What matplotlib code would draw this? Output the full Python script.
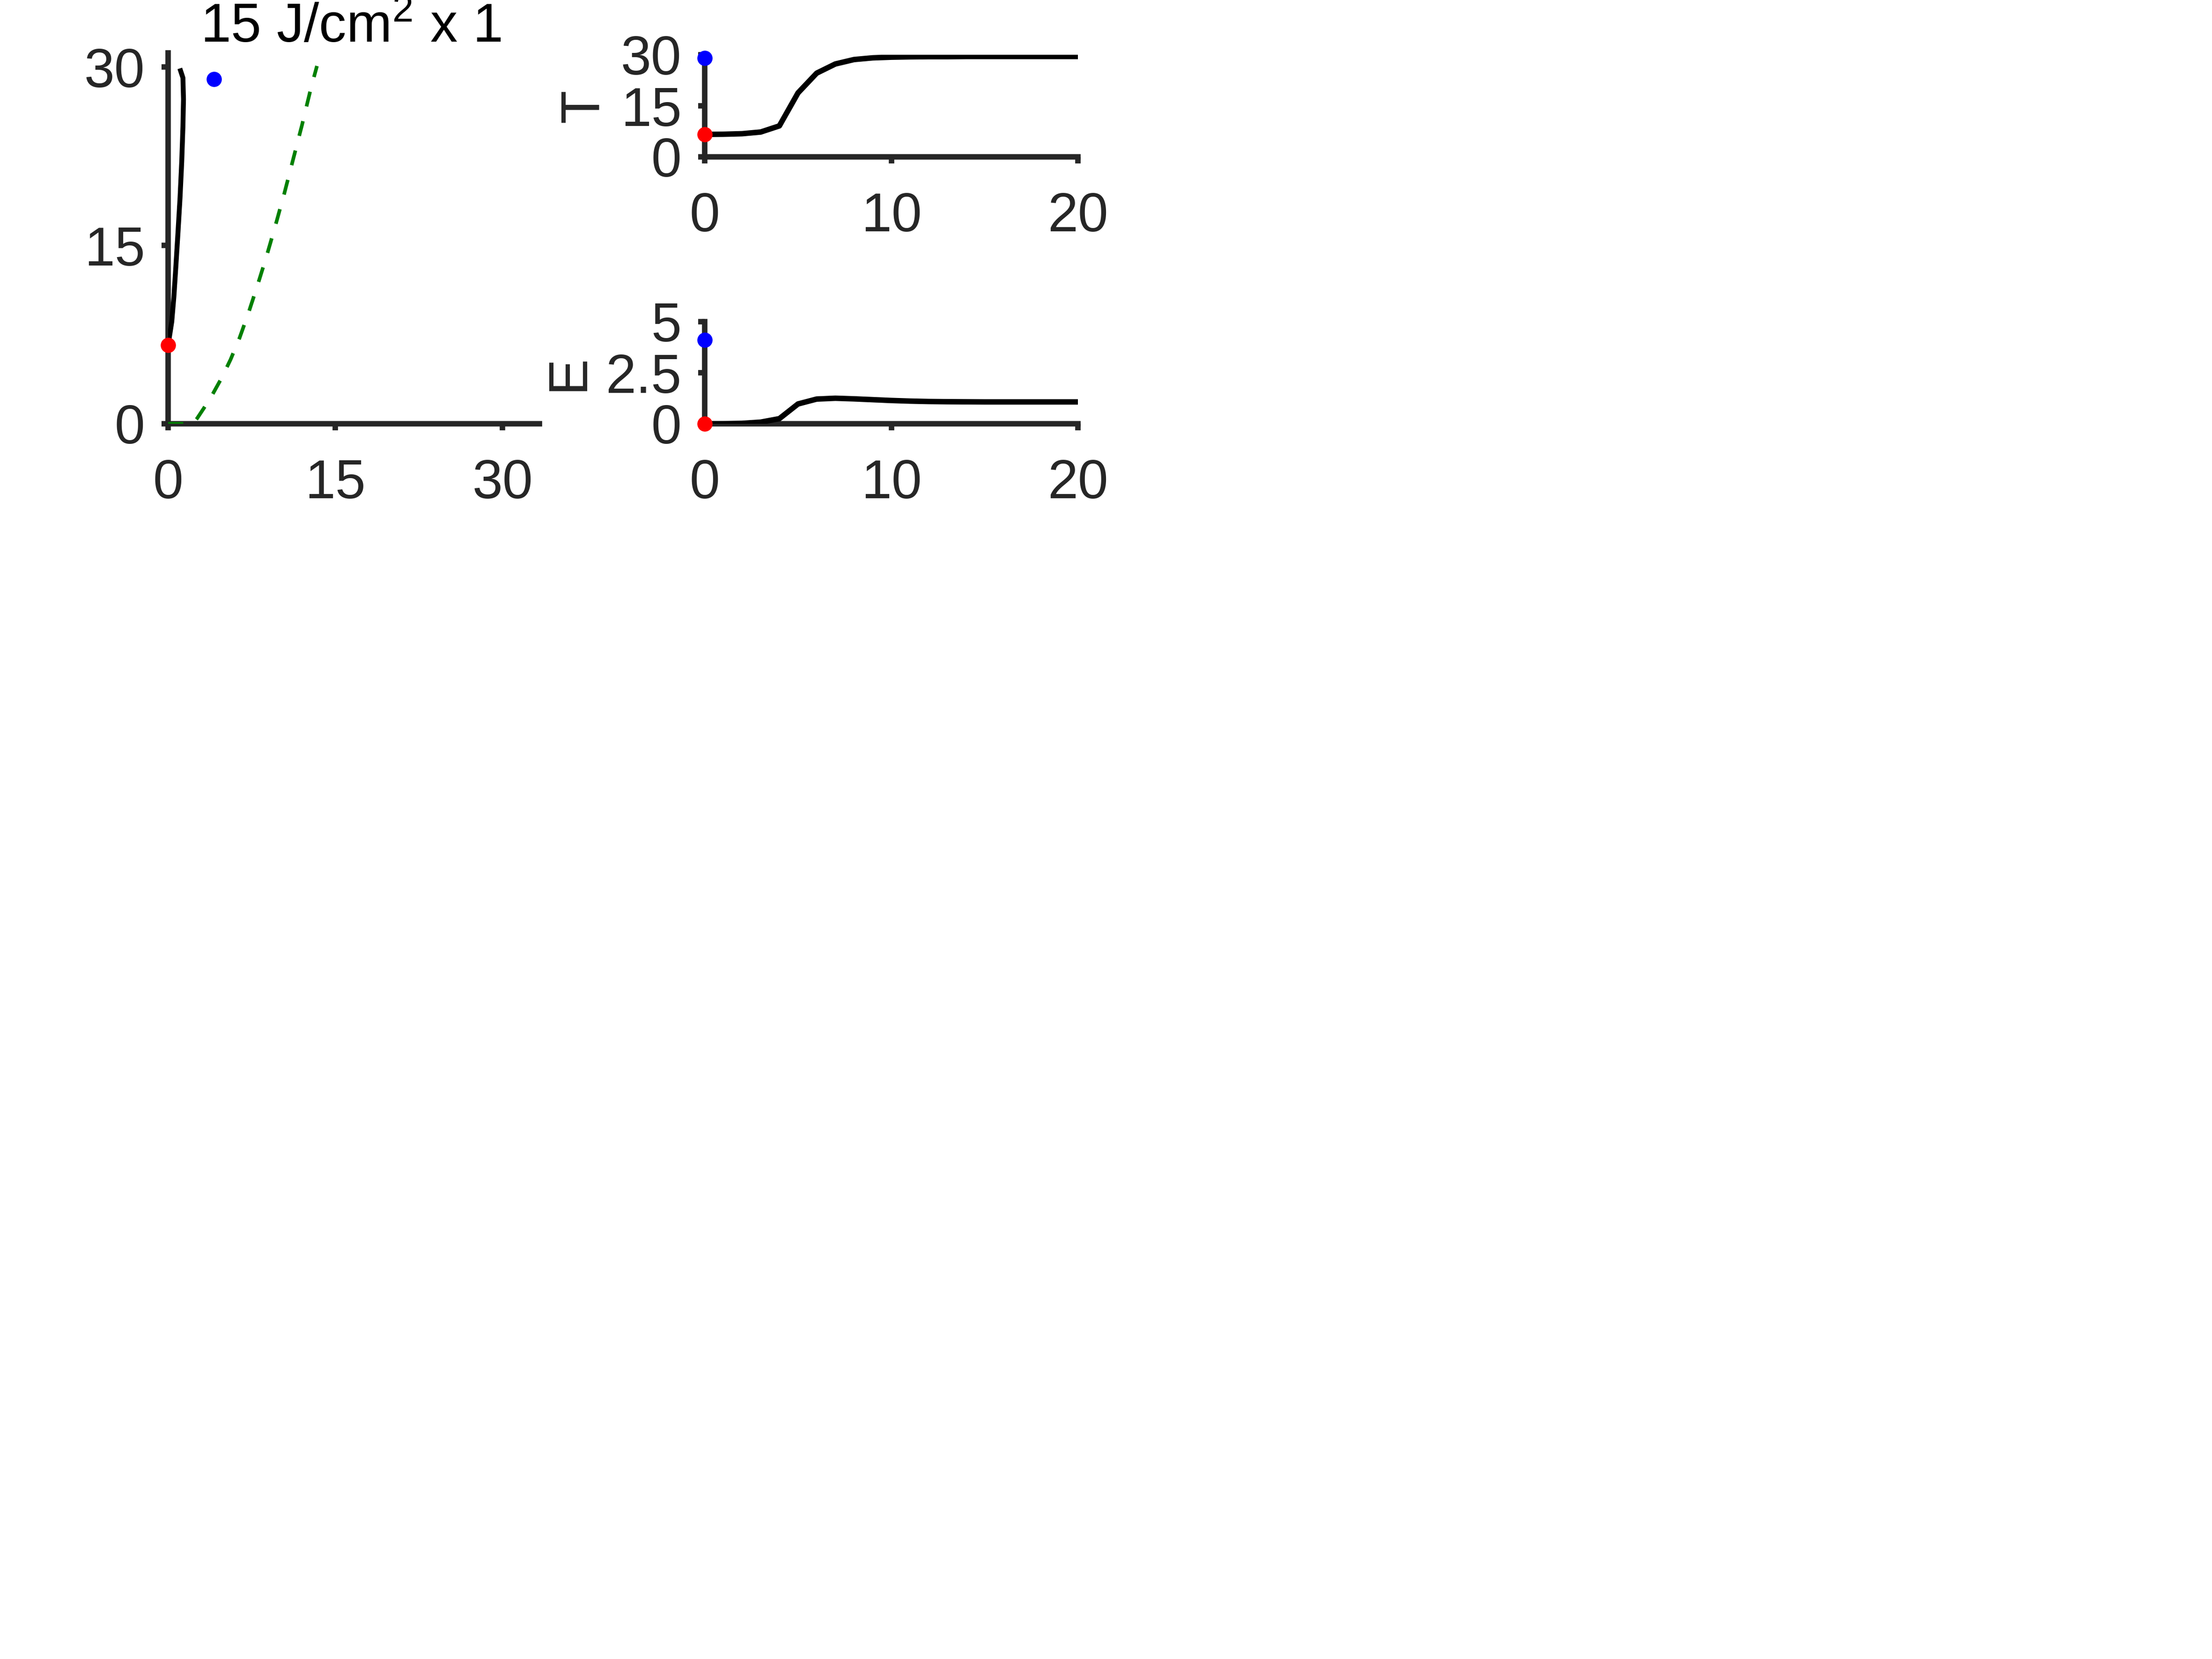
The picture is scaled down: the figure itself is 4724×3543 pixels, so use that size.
import numpy as np
import matplotlib.pyplot as plt

plt.rcParams['font.family'] = 'Liberation Sans'
plt.rcParams['mathtext.fontset'] = 'custom'
plt.rcParams['mathtext.rm'] = 'Liberation Sans'
plt.rcParams['mathtext.default'] = 'regular'

# phase plane trajectory: E on x, T on y
phase_E = [0.0, 0.15, 0.33, 0.52, 0.68, 0.88, 1.07, 1.22, 1.33, 1.38, 1.33, 1.12]
phase_T = [6.6, 7.5, 8.6, 10.7, 13.0, 16.0, 19.0, 22.0, 25.0, 27.3, 29.1, 29.7]

# nullcline (green dashed)
null_E = [0, 2.2, 2.6, 3.2, 4.0, 4.8, 5.6, 6.4, 7.2, 8.0, 8.8, 9.6, 10.4,
          11.2, 12.0, 12.8, 13.35]
null_T = [0, 0, 0.45, 1.3, 2.5, 3.85, 5.4, 7.2, 9.3, 11.6, 14.0, 16.6, 19.3,
          22.2, 25.1, 28.2, 30.1]

# time courses
t = list(range(21))
T_t = [6.6, 6.65, 6.8, 7.3, 9.1, 18.8, 24.6, 27.3, 28.6, 29.1, 29.3, 29.4, 29.45,
       29.45, 29.5, 29.5, 29.5, 29.5, 29.5, 29.5, 29.5]
E_t = [0, 0.005, 0.02, 0.08, 0.25, 0.97, 1.21, 1.25, 1.22, 1.18, 1.14, 1.11, 1.09,
       1.08, 1.075, 1.07, 1.07, 1.07, 1.07, 1.07, 1.07]

# start (red) and target (blue) points
E_start, T_start = 0, 6.6
E_goal, T_goal = 4.1, 29.0

dark = '#262626'


def style(ax):
    ax.spines['top'].set_visible(False)
    ax.spines['right'].set_visible(False)
    for s in ['left', 'bottom']:
        ax.spines[s].set_linewidth(2.8)
        ax.spines[s].set_color(dark)
    ax.tick_params(direction='out', length=3.4, width=2.8, color=dark,
                   labelcolor=dark, labelsize=28)
    ax.tick_params(axis='x', pad=14.3)
    ax.tick_params(axis='y', pad=8.5)


W, H = 4724, 3543
fig = plt.figure(figsize=(W / 300, H / 300), dpi=300)

# left: phase plane
ax1 = fig.add_axes([359 / W, 1 - 905 / H, 793 / W, 792 / H])
ax1.plot(null_E, null_T, color='green', lw=1.85, dashes=(4.2, 4.2), zorder=3)
ax1.plot(phase_E, phase_T, color='black', lw=2.5, zorder=3)
ax1.plot(E_start, T_start, 'o', color='red', ms=6.8, zorder=4, clip_on=False)
ax1.plot(E_goal, T_goal, 'o', color='blue', ms=6.8, zorder=4, clip_on=False)
ax1.set_xlim(0, 33.3)
ax1.set_ylim(0, 31.2)
ax1.set_xticks([0, 15, 30])
ax1.set_yticks([0, 15, 30])
style(ax1)

fig.text(749 / W, 1 - 90 / H, '15 J/cm$^2$ x 1', ha='center', va='baseline',
         fontsize=28, color='black')

# top right: T(t)
ax2 = fig.add_axes([1505 / W, 1 - 335 / H, 797 / W, 218 / H])
ax2.plot(t, T_t, color='black', lw=2.8, zorder=3)
ax2.plot(0, T_start, 'o', color='red', ms=6.8, zorder=4, clip_on=False)
ax2.plot(0, T_goal, 'o', color='blue', ms=6.8, zorder=4, clip_on=False)
ax2.set_xlim(0, 20)
ax2.set_ylim(0, 30)
ax2.set_xticks([0, 10, 20])
ax2.set_yticks([0, 15, 30])
style(ax2)
ax2.set_ylabel('T', fontsize=28, color=dark)
ax2.yaxis.set_label_coords(-0.255, 0.5)

# bottom right: E(t)
ax3 = fig.add_axes([1505 / W, 1 - 905 / H, 797 / W, 218 / H])
ax3.plot(t, E_t, color='black', lw=2.8, zorder=3)
ax3.plot(0, E_start, 'o', color='red', ms=6.8, zorder=4, clip_on=False)
ax3.plot(0, E_goal, 'o', color='blue', ms=6.8, zorder=4, clip_on=False)
ax3.set_xlim(0, 20)
ax3.set_ylim(0, 5)
ax3.set_xticks([0, 10, 20])
ax3.set_yticks([0, 2.5, 5])
ax3.set_yticklabels(['0', '2.5', '5'])
style(ax3)
ax3.set_ylabel('E', fontsize=28, color=dark)
ax3.yaxis.set_label_coords(-0.296, 0.5)

fig.savefig('out.png', dpi=300)
